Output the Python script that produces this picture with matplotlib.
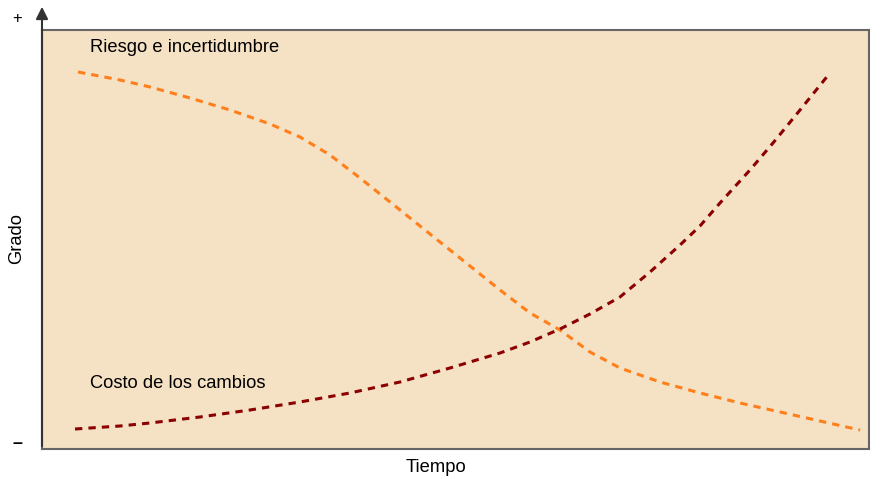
import numpy as np
import matplotlib
matplotlib.use("Agg")
import matplotlib.pyplot as plt

plt.rcParams['font.family'] = ['Liberation Sans', 'DejaVu Sans']

# Tiempo (0-100) and Grado (0-100)
riesgo_t = [4.35, 9.43, 13.06, 17.90, 22.73, 27.57, 31.20, 34.82, 38.45, 43.29, 49.33,
            55.38, 59.01, 62.64, 66.26, 69.89, 74.73, 79.56, 84.40, 89.24, 94.07, 98.91]
riesgo_g = [89.98, 88.07, 86.40, 83.77, 80.91, 77.57, 74.46, 70.17, 64.68, 57.04, 47.49,
            37.95, 32.46, 28.40, 23.15, 19.33, 15.99, 13.37, 10.98, 8.83, 6.68, 4.53]

costo_t = [3.99, 9.43, 13.06, 19.11, 25.15, 31.20, 37.24, 43.29, 49.33, 55.38, 59.01,
           62.64, 66.26, 69.89, 73.52, 77.15, 79.56, 81.98, 85.61, 88.39, 91.66, 95.28]
costo_g = [4.77, 5.49, 6.21, 7.64, 9.31, 11.22, 13.37, 15.99, 19.33, 22.91, 25.54,
           28.64, 32.22, 36.28, 42.24, 48.69, 53.22, 58.71, 66.59, 73.03, 80.91, 89.74]

labels = {'riesgo': 'Riesgo e incertidumbre', 'costo': 'Costo de los cambios'}

W, H = 885, 479
fig = plt.figure(figsize=(W / 100, H / 100), dpi=100)
x0, x1, ytop, ybot = 42, 869, 30, 449
ax = fig.add_axes([x0 / W, (H - ybot) / H, (x1 - x0) / W, (ybot - ytop) / H])
ax.set_facecolor('#F5E1C4')

ax.plot(riesgo_t, riesgo_g, color='#FF801A', linewidth=2.2,
        linestyle=(0, (2.4, 2.0)), solid_joinstyle='round', dash_joinstyle='round')
ax.plot(costo_t, costo_g, color='#8B0000', linewidth=2.2,
        linestyle=(0, (2.4, 2.0)), solid_joinstyle='round', dash_joinstyle='round')

ax.set_xlim(0, 100)
ax.set_ylim(0, 100)
ax.set_xticks([])
ax.set_yticks([])
for s in ax.spines.values():
    s.set_color('#666666')
    s.set_linewidth(1.5)

ax.text(5.8, 95.9, labels['riesgo'], fontsize=13.2, va='center', ha='left')
ax.text(5.8, 15.7, labels['costo'], fontsize=13.2, va='center', ha='left')

# axis arrow
fig.add_artist(matplotlib.patches.FancyArrowPatch(
    (x0 / W, (H - ybot) / H), (x0 / W, (H - 4) / H), transform=fig.transFigure,
    arrowstyle='-|>,head_length=0.6,head_width=0.3', color='#333333',
    linewidth=1.5, mutation_scale=12))

fig.text(436 / W, 1 - 467 / H, 'Tiempo', fontsize=13.2, ha='center', va='center')
fig.text(17 / W, 1 - 238 / H, 'Grado', fontsize=13.2, ha='center', va='center', rotation=90)
fig.text(17 / W, 1 - 18 / H, '+', fontsize=12, ha='center', va='center')
fig.text(17 / W, 1 - 444 / H, '\u2013', fontsize=13, ha='center', va='center', fontweight='bold')

fig.savefig('out.png', dpi=100)
